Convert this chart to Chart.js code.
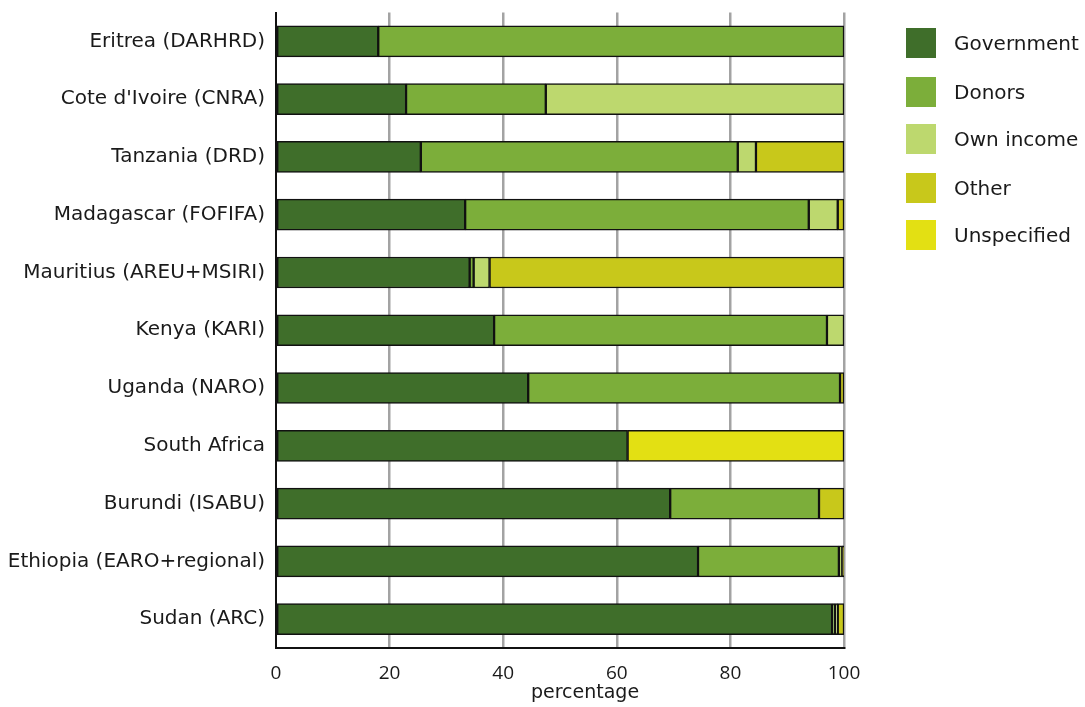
<!DOCTYPE html>
<html>
<head>
<meta charset="utf-8">
<script src="https://cdn.jsdelivr.net/npm/chart.js@4/dist/chart.umd.min.js"></script>
<style>
  html, body { margin: 0; padding: 0; background: #fff; }
  #wrap { position: relative; width: 1085px; height: 707px; }
  #legend { position: absolute; left: 906px; top: 28px; font-family: "DejaVu Sans", sans-serif; font-size: 20px; color: #1a1a1a; }
  .item { position: absolute; left: 0; height: 30px; white-space: nowrap; }
  .sw { position: absolute; left: 0; top: 0; width: 30px; height: 30px; }
  .lab { position: absolute; left: 48px; top: 0; line-height: 30px; }
</style>
</head>
<body>
<div id="wrap">
  <canvas id="chart" width="1085" height="707"></canvas>
  <div id="legend"></div>
</div>
<script>
// Institutions, top to bottom
const categories = [
  "Eritrea (DARHRD)",
  "Cote d'Ivoire (CNRA)",
  "Tanzania (DRD)",
  "Madagascar (FOFIFA)",
  "Mauritius (AREU+MSIRI)",
  "Kenya (KARI)",
  "Uganda (NARO)",
  "South Africa",
  "Burundi (ISABU)",
  "Ethiopia (EARO+regional)",
  "Sudan (ARC)"
];

// Funding shares, percent of total
const government  = [18.0, 22.9, 25.5, 33.3, 34.1, 38.4, 44.4, 61.9, 69.4, 74.3, 97.9];
const donors      = [82.0, 24.6, 55.8, 60.5,  0.7, 58.6, 54.9,  0.0, 26.2, 24.8,  0.5];
const ownIncome   = [ 0.0, 52.5,  3.2,  5.1,  2.8,  3.0,  0.0,  0.0,  0.0,  0.6,  0.5];
const other       = [ 0.0,  0.0, 15.5,  1.1, 62.4,  0.0,  0.7,  0.0,  4.4,  0.3,  1.1];
const unspecified = [ 0.0,  0.0,  0.0,  0.0,  0.0,  0.0,  0.0, 38.1,  0.0,  0.0,  0.0];

const xTicks = [0, 20, 40, 60, 80, 100];

const seriesNames = ["Government", "Donors", "Own income", "Other", "Unspecified"];
const seriesColors = ["#3f6e2a", "#7cae3a", "#bdd86e", "#c8c81b", "#e3e013"];
const seriesData = [government, donors, ownIncome, other, unspecified];

const FONT = "'DejaVu Sans', sans-serif";
const TICK_FONT = "'Open Sans', sans-serif";

const datasets = seriesNames.map((name, i) => ({
  label: name,
  data: seriesData[i],
  backgroundColor: seriesColors[i],
  borderColor: "#111",
  borderWidth: 1.5,
  borderSkipped: false,
  barThickness: 31
}));

// axis title drawn slightly right of the plot centre
const axisTitle = {
  id: "axisTitle",
  afterDraw(chart) {
    const ctx = chart.ctx;
    const a = chart.chartArea;
    ctx.save();
    ctx.font = "19px " + FONT;
    ctx.fillStyle = "#1a1a1a";
    ctx.textAlign = "center";
    ctx.textBaseline = "middle";
    ctx.fillText("percentage", (a.left + a.right) / 2 + 25, 693);
    ctx.restore();
  }
};

new Chart(document.getElementById("chart"), {
  type: "bar",
  data: { labels: categories, datasets },
  options: {
    indexAxis: "y",
    responsive: false,
    animation: false,
    layout: { padding: { left: 0, right: 241, top: 12.5, bottom: 0 } },
    plugins: { legend: { display: false }, tooltip: { enabled: false } },
    scales: {
      x: {
        stacked: true,
        min: 0,
        max: 100,
        afterBuildTicks(scale) { scale.ticks = xTicks.map(v => ({ value: v })); },
        afterFit(scale) { scale.height = 59; },
        grid: {
          color: c => (c.tick && c.tick.value === 0) ? "rgba(0,0,0,0)" : "#a3a3a3",
          lineWidth: 2.5,
          drawTicks: false
        },
        border: { color: "#111", width: 2 },
        ticks: {
          padding: 14,
          color: "#1a1a1a",
          font: { family: TICK_FONT, size: 19 }
        }
      },
      y: {
        stacked: true,
        afterFit(scale) {
          scale.width = 276;
          scale.paddingTop = 0;
          scale.paddingBottom = 0;
        },
        grid: { display: false, drawTicks: false },
        border: { color: "#111", width: 2 },
        ticks: {
          padding: 11,
          color: "#1a1a1a",
          font: { family: FONT, size: 20 }
        }
      }
    }
  },
  plugins: [axisTitle]
});

// legend
const legend = document.getElementById("legend");
const legendTops = [0, 48.5, 96, 144.5, 192];
seriesNames.forEach((name, i) => {
  const item = document.createElement("div");
  item.className = "item";
  item.style.top = legendTops[i] + "px";
  item.innerHTML = '<div class="sw" style="background:' + seriesColors[i] + '"></div><div class="lab">' + name + '</div>';
  legend.appendChild(item);
});
</script>
</body>
</html>
